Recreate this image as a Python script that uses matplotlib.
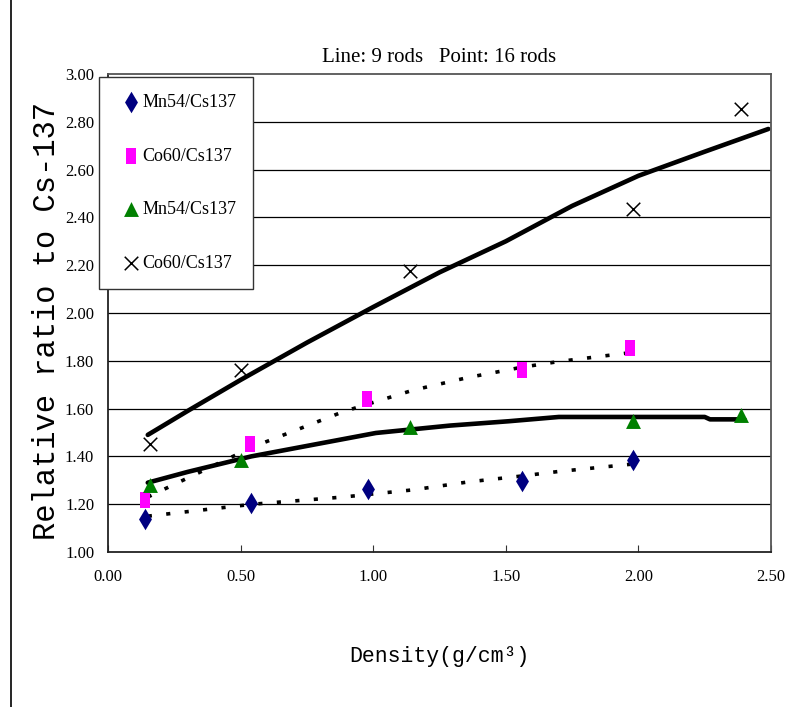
import matplotlib.pyplot as plt
from matplotlib.lines import Line2D

# 16 rods (points)
mn_pt_x = [0.14, 0.54, 0.98, 1.56, 1.98]
mn_pt_y = [1.14, 1.205, 1.265, 1.295, 1.385]
co_pt_x = [0.14, 0.535, 0.975, 1.56, 1.97]
co_pt_y = [1.218, 1.453, 1.64, 1.763, 1.855]
mn2_pt_x = [0.16, 0.50, 1.14, 1.98, 2.385]
mn2_pt_y = [1.28, 1.385, 1.524, 1.55, 1.574]
co2_pt_x = [0.16, 0.50, 1.14, 1.98, 2.385]
co2_pt_y = [1.45, 1.763, 2.174, 2.434, 2.853]

# 9 rods (lines)
co_sol_x = [0.15, 0.30, 0.50, 0.75, 1.00, 1.25, 1.50, 1.75, 2.00, 2.25, 2.49]
co_sol_y = [1.49, 1.59, 1.72, 1.876, 2.025, 2.17, 2.30, 2.448, 2.574, 2.675, 2.77]
mn_sol_x = [0.15, 0.30, 0.54, 1.01, 1.29, 1.51, 1.70, 2.25, 2.27, 2.40]
mn_sol_y = [1.29, 1.335, 1.40, 1.498, 1.529, 1.547, 1.565, 1.565, 1.555, 1.555]
co_dot_x = [0.15, 0.547, 0.887, 1.15, 1.357, 1.56, 1.70, 1.97]
co_dot_y = [1.23, 1.44, 1.587, 1.677, 1.73, 1.773, 1.797, 1.834]
mn_dot_x = [0.15, 0.547, 0.887, 1.15, 1.357, 1.56, 1.70, 1.97]
mn_dot_y = [1.15, 1.20, 1.23, 1.26, 1.293, 1.318, 1.337, 1.367]

xticks = [0.0, 0.5, 1.0, 1.5, 2.0, 2.5]
yticks = [1.0, 1.2, 1.4, 1.6, 1.8, 2.0, 2.2, 2.4, 2.6, 2.8, 3.0]

serif = 'Liberation Serif'
mono = 'Liberation Mono'

fig = plt.figure(figsize=(7.89, 7.07), dpi=100)
ax = fig.add_axes([108/789, 1-552/707, (771-108)/789, (552-74)/707])

for y in yticks[1:-1]:
    ax.axhline(y, color='black', lw=0.9, zorder=1)

px = 72/100
ax.plot(co_sol_x, co_sol_y, color='black', lw=4.6*px, solid_capstyle='round', zorder=2)
ax.plot(mn_sol_x, mn_sol_y, color='black', lw=4.6*px, solid_capstyle='round', zorder=2)
ax.plot(co_dot_x, co_dot_y, color='black', lw=3.6*px, linestyle=(0, (1.15, 4.0)),
        dash_capstyle='butt', zorder=2)
ax.plot(mn_dot_x, mn_dot_y, color='black', lw=3.6*px, linestyle=(0, (1.15, 4.0)),
        dash_capstyle='butt', zorder=2)

rect = [(-0.33, -0.5), (0.33, -0.5), (0.33, 0.5), (-0.33, 0.5), (-0.33, -0.5)]
h1 = ax.scatter(mn_pt_x, mn_pt_y, marker='d', s=120, color='#000080', zorder=3,
                label='Mn54/Cs137', linewidths=0)
h2 = ax.scatter(co_pt_x, co_pt_y, marker=rect, s=140, color='#ff00ff', zorder=3,
                label='Co60/Cs137', linewidths=0)
h3 = ax.scatter(mn2_pt_x, mn2_pt_y, marker='^', s=115, color='#008000', zorder=3,
                label='Mn54/Cs137', linewidths=0)
h4 = ax.scatter(co2_pt_x, co2_pt_y, marker='x', s=95, color='black', zorder=3,
                label='Co60/Cs137', linewidths=1.1)

ax.set_xlim(0, 2.5)
ax.set_ylim(1.0, 3.0)
ax.set_xticks(xticks)
ax.set_yticks(yticks)
ax.set_xticklabels([f'{v:.2f}' for v in xticks], fontfamily=serif, fontsize=12)
ax.set_yticklabels([f'{v:.2f}' for v in yticks], fontfamily=serif, fontsize=12)
ax.tick_params(axis='x', direction='in', length=5, pad=12, color='#333333')
ax.tick_params(axis='y', length=0, pad=10)
for s in ['left', 'bottom']:
    ax.spines[s].set_color('#222222')
    ax.spines[s].set_linewidth(1.3)
for s in ['right', 'top']:
    ax.spines[s].set_color('#555555')
    ax.spines[s].set_linewidth(1.3)

ax.set_title('Line: 9 rods   Point: 16 rods', fontfamily=serif, fontsize=15, pad=9)
ax.set_ylabel('Relative ratio to Cs-137', fontfamily=mono, fontsize=22)
ax.yaxis.set_label_coords(-0.07, 0.483)
ax.set_xlabel('Density(g/cm\u00b3)', fontfamily=mono, fontsize=15.5, labelpad=44)

leg = ax.legend(handles=[h1, h2, h3, h4], loc='upper left',
                bbox_to_anchor=(99/789, 1-77/707), bbox_transform=fig.transFigure,
                prop={'family': serif, 'size': 13}, frameon=True, fancybox=False,
                edgecolor='#333333', framealpha=1, labelspacing=2.02,
                handletextpad=-0.25, borderpad=0.95, handlelength=1.7, borderaxespad=0)
leg.get_frame().set_linewidth(1.0)
leg.set_zorder(5)

fig.add_artist(Line2D([11/789, 11/789], [0, 1], color='black', lw=1.2))

fig.savefig('out.png', dpi=100)
